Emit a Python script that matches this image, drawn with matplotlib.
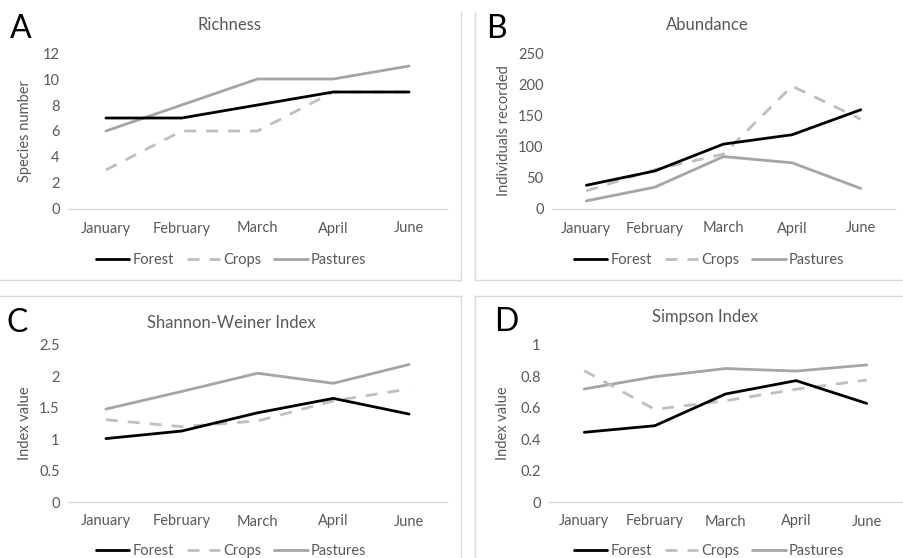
import matplotlib
matplotlib.use("Agg")
import matplotlib.pyplot as plt
from matplotlib.lines import Line2D

plt.rcParams['font.family'] = ['Lato', 'DejaVu Sans']

months = ["January", "February", "March", "April", "June"]
series_names = ["Forest", "Crops", "Pastures"]

richness_forest = [7, 7, 8, 9, 9]
richness_crops = [3, 6, 6, 9, 9]
richness_pastures = [6, 8, 10, 10, 11]

abund_forest = [38, 61, 104, 119, 159]
abund_crops = [29, 63, 88, 197, 144]
abund_pastures = [13, 35, 84, 74, 33]

shannon_forest = [1.01, 1.13, 1.42, 1.65, 1.40]
shannon_crops = [1.31, 1.20, 1.29, 1.61, 1.80]
shannon_pastures = [1.48, 1.76, 2.05, 1.89, 2.19]

simpson_forest = [0.444, 0.486, 0.688, 0.773, 0.628]
simpson_crops = [0.836, 0.59, 0.645, 0.718, 0.777]
simpson_pastures = [0.72, 0.798, 0.85, 0.834, 0.873]

W, H = 904, 558
fig = plt.figure(figsize=(W / 100, H / 100), dpi=100)

TXT = "#595959"
GRID = "#D9D9D9"
colors = ["#000000", "#BFBFBF", "#A5A5A5"]
styles = ["-", (0, (4.3, 3.6)), "-"]
LW = 2.0
FS = 10.5


def px_axes(x0, x1, ytop, ybot):
    return fig.add_axes([x0 / W, 1 - ybot / H, (x1 - x0) / W, (ybot - ytop) / H])


def fx(x):
    return x / W


def fy(y):
    return 1 - y / H


panels = [
    dict(box=(68, 447, 53, 209), data=(richness_forest, richness_crops, richness_pastures),
         ylim=(0, 12), yticks=[0, 2, 4, 6, 8, 10, 12], ylabels=["0", "2", "4", "6", "8", "10", "12"],
         title="Richness", title_xy=(230, 25), ylabel="Species number", ylabel_x=25,
         letter="A", letter_xy=(10, 29), legend_xy=(231, 260)),
    dict(box=(552, 895, 53, 209), data=(abund_forest, abund_crops, abund_pastures),
         ylim=(0, 250), yticks=[0, 50, 100, 150, 200, 250], ylabels=["0", "50", "100", "150", "200", "250"],
         title="Abundance", title_xy=(707, 25), ylabel="Individuals recorded", ylabel_x=504,
         letter="B", letter_xy=(486, 29), legend_xy=(709, 260)),
    dict(box=(68, 447, 345, 502), data=(shannon_forest, shannon_crops, shannon_pastures),
         ylim=(0, 2.5), yticks=[0, 0.5, 1, 1.5, 2, 2.5], ylabels=["0", "0.5", "1", "1.5", "2", "2.5"],
         title="Shannon-Weiner Index", title_xy=(231, 323), ylabel="Index value", ylabel_x=25,
         letter="C", letter_xy=(7, 323), legend_xy=(231, 551)),
    dict(box=(549, 902, 345, 502), data=(simpson_forest, simpson_crops, simpson_pastures),
         ylim=(0, 1), yticks=[0, 0.2, 0.4, 0.6, 0.8, 1], ylabels=["0", "0.2", "0.4", "0.6", "0.8", "1"],
         title="Simpson Index", title_xy=(705, 317), ylabel="Index value", ylabel_x=503,
         letter="D", letter_xy=(494, 322), legend_xy=(709, 551)),
]

for p in panels:
    x0, x1, yt, yb = p["box"]
    ax = px_axes(x0, x1, yt, yb)
    xs = list(range(len(months)))
    handles = []
    for vals, c, ls, name, z in zip(p["data"], colors, styles, series_names, [4, 3, 2]):
        h, = ax.plot(xs, vals, color=c, linestyle=ls, lw=LW, label=name, zorder=z,
                     solid_capstyle="round", dash_capstyle="butt")
        handles.append(h)
    ax.set_xlim(-0.5, len(months) - 0.5)
    ax.set_ylim(*p["ylim"])
    ax.set_yticks(p["yticks"])
    ax.set_yticklabels(p["ylabels"])
    ax.set_xticks(xs)
    ax.set_xticklabels(months)
    for s in ["top", "right", "left"]:
        ax.spines[s].set_visible(False)
    ax.spines["bottom"].set_color(GRID)
    ax.spines["bottom"].set_linewidth(1.0)
    ax.tick_params(axis="both", length=0, colors=TXT, labelsize=FS)
    ax.tick_params(axis="x", pad=9)
    ax.tick_params(axis="y", pad=6)
    ax.patch.set_alpha(0)

    fig.text(fx(p["title_xy"][0]), fy(p["title_xy"][1]), p["title"], ha="center", va="center",
             color=TXT, fontsize=12)
    fig.text(fx(p["ylabel_x"]), fy((yt + yb) / 2), p["ylabel"], ha="center", va="center",
             rotation=90, color=TXT, fontsize=10.5)
    fig.text(fx(p["letter_xy"][0]), fy(p["letter_xy"][1]), p["letter"], ha="left", va="center",
             color="black", fontsize=23)
    lx, ly = p["legend_xy"]
    fig.legend(handles=handles, labels=series_names, loc="center",
               bbox_to_anchor=(fx(lx), fy(ly)), ncol=3, frameon=False,
               fontsize=FS, handlelength=2.3, handletextpad=0.2,
               columnspacing=0.9, labelcolor=TXT)

# panel borders
border_kw = dict(color=GRID, lw=1.0, transform=fig.transFigure)
for seg in [
    ((461, 461), (12, 280)), ((475, 475), (12, 280)),
    ((0, 461), (280, 280)), ((475, 904), (280, 280)),
    ((0, 461), (296, 296)), ((475, 904), (296, 296)),
    ((461, 461), (296, 558)), ((475, 475), (296, 558)),
]:
    (xa, xb), (ya, yb2) = seg
    fig.add_artist(Line2D([fx(xa), fx(xb)], [fy(ya), fy(yb2)], **border_kw))

fig.savefig("out.png", dpi=100, facecolor="white")
